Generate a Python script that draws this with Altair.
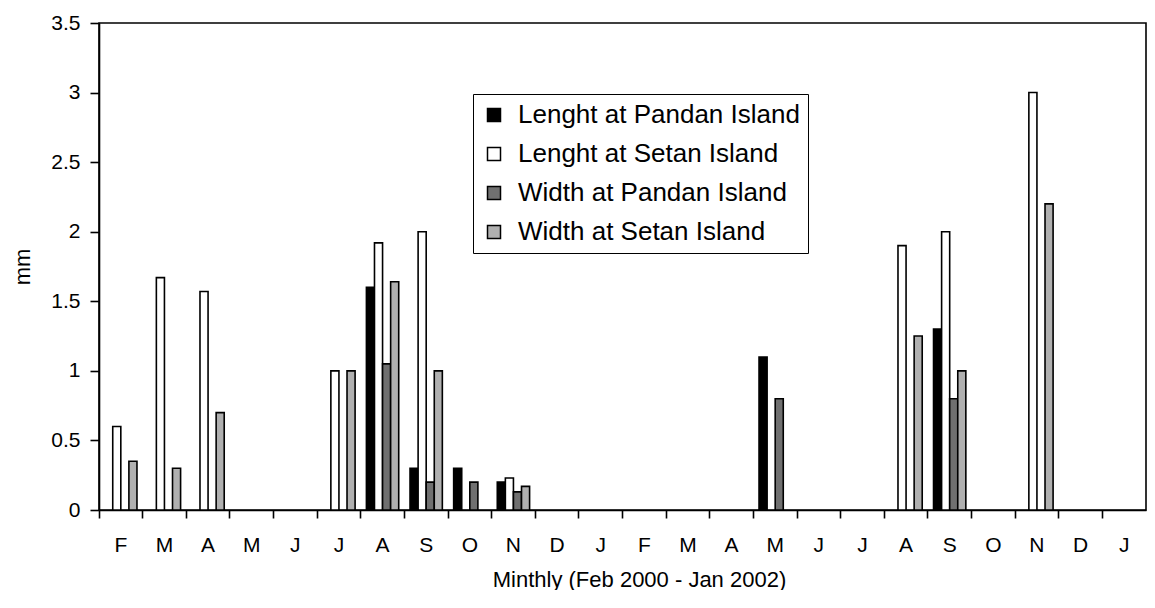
import altair as alt
import pandas as pd

month_labels = ["F", "M", "A", "M", "J", "J", "A", "S", "O", "N", "D", "J",
                "F", "M", "A", "M", "J", "J", "A", "S", "O", "N", "D", "J"]

series_names = ["Lenght at Pandan Island", "Lenght at Setan Island",
                "Width at Pandan Island", "Width at Setan Island"]

length_pandan = [0, 0, 0, 0, 0, 0, 1.6, 0.3, 0.3, 0.2, 0, 0,
                 0, 0, 0, 1.1, 0, 0, 0, 1.3, 0, 0, 0, 0]
length_setan = [0.6, 1.67, 1.57, 0, 0, 1.0, 1.92, 2.0, 0, 0.23, 0, 0,
                0, 0, 0, 0, 0, 0, 1.9, 2.0, 0, 3.0, 0, 0]
width_pandan = [0, 0, 0, 0, 0, 0, 1.05, 0.2, 0.2, 0.13, 0, 0,
                0, 0, 0, 0.8, 0, 0, 0, 0.8, 0, 0, 0, 0]
width_setan = [0.35, 0.3, 0.7, 0, 0, 1.0, 1.64, 1.0, 0, 0.17, 0, 0,
               0, 0, 0, 0, 0, 0, 1.25, 1.0, 0, 2.2, 0, 0]

series_values = [length_pandan, length_setan, width_pandan, width_setan]
series_colors = ["#000000", "#ffffff", "#707070", "#b0b0b0"]

rows = []
for name, vals in zip(series_names, series_values):
    for i, v in enumerate(vals):
        if v > 0:
            rows.append({"month": i, "series": name, "value": v})
df = pd.DataFrame(rows)

label_array = "[" + ",".join("'" + m + "'" for m in month_labels) + "]"
FONT = "Liberation Sans"

chart = alt.Chart(df).mark_bar(stroke="black", strokeWidth=1.6).encode(
    x=alt.X("month:O",
            scale=alt.Scale(domain=list(range(24)), paddingInner=0, paddingOuter=0),
            axis=alt.Axis(title="Minthly (Feb 2000 - Jan 2002)", labelAngle=0,
                          labelExpr=label_array + "[datum.value]",
                          bandPosition=0, tickSize=8, labelPadding=16,
                          titlePadding=14, labelFontSize=21, titleFontSize=22,
                          titleX=540)),
    xOffset=alt.XOffset("series:N",
                        scale=alt.Scale(domain=series_names, paddingOuter=0.7,
                                        paddingInner=0)),
    y=alt.Y("value:Q",
            scale=alt.Scale(domain=[0, 3.5], nice=False),
            axis=alt.Axis(title="mm", values=[0, 0.5, 1, 1.5, 2, 2.5, 3, 3.5],
                          format="~g", grid=False, tickSize=9, titlePadding=16,
                          labelPadding=10, labelFontSize=21, titleFontSize=22)),
    color=alt.Color("series:N",
                    scale=alt.Scale(domain=series_names, range=series_colors),
                    legend=alt.Legend(title=None, orient="none",
                                      legendX=374, legendY=71,
                                      symbolType="square", symbolSize=169,
                                      symbolStrokeColor="black",
                                      symbolStrokeWidth=1.5,
                                      labelFontSize=26, labelFont=FONT,
                                      labelColor="black", rowPadding=13,
                                      labelOffset=11,
                                      strokeColor="black", padding=8,
                                      labelLimit=500, fillColor="white")),
).properties(
    width=1047, height=487,
    autosize=alt.AutoSizeParams(type="none"),
    padding={"left": 91, "top": 15, "right": 1, "bottom": 80},
).configure_view(
    stroke="black", strokeWidth=1.6
).configure_axis(
    domainColor="black", domainWidth=1.6, tickColor="black", tickWidth=1.6,
    labelFont=FONT, titleFont=FONT,
    labelColor="black", titleColor="black", titleFontWeight="normal"
)

chart.save("out.html", embed_options={"renderer": "svg", "actions": False})
